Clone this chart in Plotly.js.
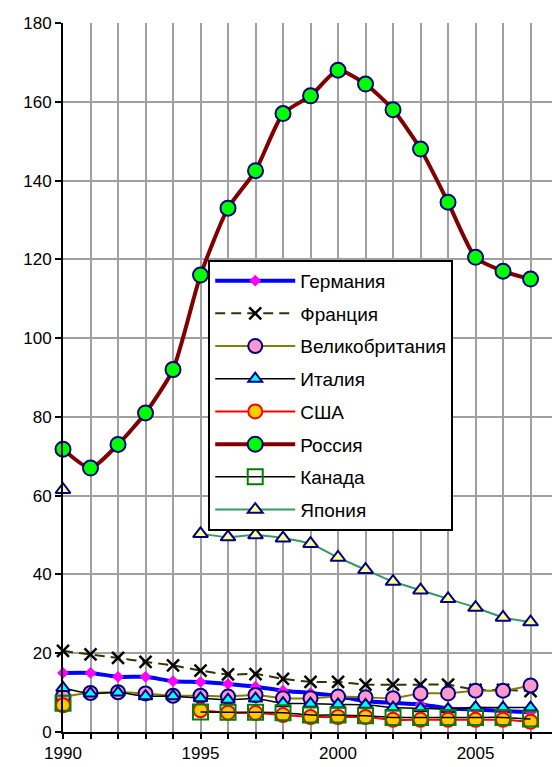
<!DOCTYPE html>
<html><head><meta charset="utf-8">
<script src="https://cdn.plot.ly/plotly-3.0.1.min.js"></script>
<style>html,body{margin:0;padding:0;background:#fff}#chart{width:552px;height:767px}</style>
</head><body><div id="chart"></div>
<script>
const years = [1990,1991,1992,1993,1994,1995,1996,1997,1998,1999,2000,2001,2002,2003,2004,2005,2006,2007];
const germany = [15,15,14,14,12.9,12.7,12.2,11.5,10.5,9.9,9.1,7.8,7.4,7,6,5.7,5.3,5];
const france  = [20.6,19.7,18.8,17.8,16.9,15.6,14.6,14.7,13.5,12.7,12.7,12,12,12,12,10.7,10.7,10.4];
const uk      = [9,9.9,10.1,9.8,9.2,9.2,9,9.4,8.6,8.6,9,8.8,8.6,9.8,9.8,10.5,10.5,11.8];
const italy   = [11.2,9.8,10,9.1,9.1,8.6,8.2,8.5,7.3,7.2,7,6.9,6.2,6,5.8,6.3,6.2,6.2];
const usa     = [6.8,null,null,null,null,5.5,4.9,4.8,4.3,3.8,3.8,3.8,3.1,3.1,3.1,3.1,3.1,2.6];
const russia  = [71.8,67,73,81,92,116,133,142.5,157,161.5,168,164.5,158,148,134.5,120.5,117,115];
const canada  = [7.3,null,null,null,null,5.1,5,5,4.9,4.3,4.3,4.1,3.7,3.7,3.7,3.7,3.7,3.3];
const japan   = [61.5,null,null,null,null,50.3,49.5,50,49.2,47.8,44.3,41.2,38.2,36,33.8,31.6,29.1,27.9];
const names = ['Германия','Франция','Великобритания','Италия','США','Россия','Канада','Япония'];
const tickLabels = ['1990','','','','','1995','','','','','2000','','','','','2005','',''];

const navy = '#000080';
function tr(i, y, line, marker) {
  return {x: years, y: y, name: names[i], legendgroup: 'g'+i, type: 'scatter', mode: 'lines+markers',
    line: Object.assign({shape: 'spline', smoothing: 0.6}, line), marker: marker, cliponaxis: false, connectgaps: false};
}
const data = [
  tr(0, germany, {color: '#0000FF', width: 4}, {symbol: 'diamond', size: 9, color: '#FF00FF', line: {width: 0}}),
  tr(1, france, {color: '#333300', width: 2, dash: '10px,6px'}, {symbol: 'x-thin', size: 12, color: '#000', line: {width: 2.5, color: '#000'}}),
  tr(2, uk, {color: '#808000', width: 2}, {symbol: 'circle', size: 14, color: '#FF99CC', line: {width: 2, color: navy}}),
  tr(3, italy, {color: '#000000', width: 1.5}, {symbol: 'triangle-up', size: 12, color: '#00FFFF', line: {width: 2, color: navy}}),
  tr(4, usa, {color: '#FF0000', width: 2}, {symbol: 'circle', size: 14, color: '#FFCC00', line: {width: 2, color: '#FF0000'}}),
  tr(5, russia, {color: '#800000', width: 4}, {symbol: 'circle', size: 15, color: '#00FF00', line: {width: 2, color: navy}}),
  tr(6, canada, {color: '#000000', width: 1.5}, {symbol: 'square-open', size: 15, color: '#008000', line: {width: 2, color: '#008000'}}),
  tr(7, japan, {color: '#339966', width: 2}, {symbol: 'triangle-up', size: 13, color: '#FFFF99', line: {width: 2, color: navy}})
];
const layout = {
  width: 552, height: 767,
  margin: {l: 63, r: 0, t: 23, b: 35},
  paper_bgcolor: '#fff', plot_bgcolor: '#fff',
  font: {family: 'Liberation Sans, Arial, sans-serif', size: 17, color: '#000'},
  showlegend: true,
  legend: {x: 0.297, y: 0.666, xanchor: 'left', yanchor: 'top', bgcolor: '#fff', bordercolor: '#000', borderwidth: 2,
    font: {size: 19}, tracegroupgap: 5, itemwidth: 80},
  xaxis: {range: [1990, 2007.78], tickmode: 'array', tickvals: years, ticktext: tickLabels,
    showgrid: true, gridcolor: '#A0A0A0', gridwidth: 2, zeroline: false,
    showline: true, linecolor: '#000', linewidth: 2, ticks: 'outside', ticklen: 5, tickwidth: 2, tickcolor: '#000'},
  yaxis: {range: [0, 180], dtick: 20, showgrid: true, gridcolor: '#A0A0A0', gridwidth: 2, zeroline: false,
    showline: true, linecolor: '#000', linewidth: 2, ticks: 'outside', ticklen: 6, tickwidth: 2, tickcolor: '#000'}
};
Plotly.newPlot('chart', data, layout, {displayModeBar: false, staticPlot: true});
</script></body></html>
